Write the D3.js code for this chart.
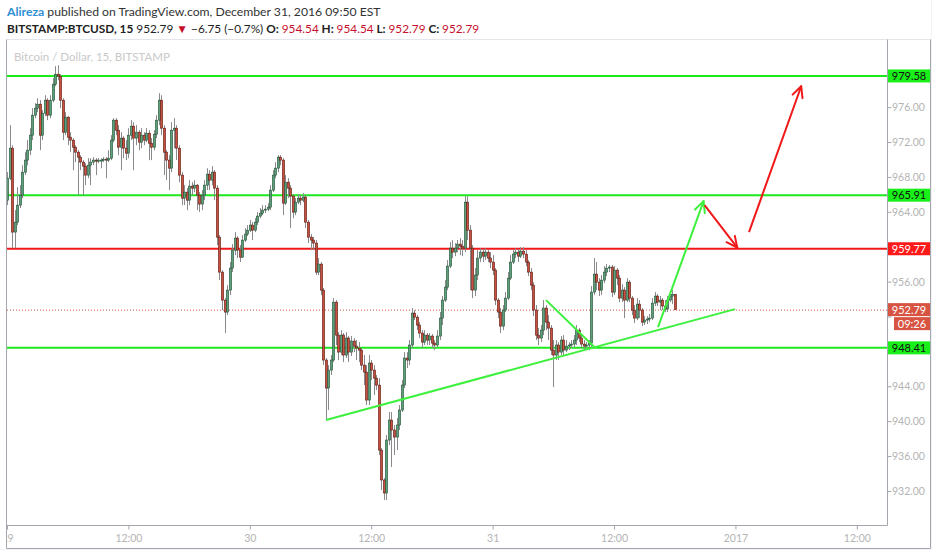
<!DOCTYPE html>
<html><head><meta charset="utf-8">
<script src="https://cdn.jsdelivr.net/npm/d3@7"></script>
<style>body{margin:0;background:#f1f3f6;} svg{display:block;}</style>
</head><body><svg id="c" width="932" height="550"></svg>
<script>
// ---- DATA (BITSTAMP:BTCUSD, 15-minute bars from Dec 29 00:00) ----
const firstOpen = 965.34;
const closes = [
967.86,971.30,961.68,962.82,964.77,965.92,968.55,969.93,971.07,972.79,
975.08,975.88,976.34,972.79,975.31,976.80,975.08,976.80,978.63,979.78,
979.55,976.80,973.13,974.85,972.56,972.22,971.41,970.84,970.27,969.70,
969.24,968.21,969.35,969.70,969.93,969.81,969.93,969.93,970.04,969.93,
970.15,972.22,974.51,973.36,971.41,972.45,971.30,970.73,972.79,973.82,
972.45,973.13,971.99,972.79,972.22,973.02,971.87,971.41,972.90,974.51,
976.80,973.59,970.84,969.93,969.01,973.36,973.59,971.30,968.21,965.57,
966.26,965.34,966.95,966.72,967.06,965.92,964.89,965.92,967.06,968.32,
967.63,968.55,966.72,961.10,957.09,953.88,952.51,955.03,957.55,959.61,
960.99,959.61,958.81,960.76,961.45,961.90,962.48,961.90,962.82,963.51,
963.85,964.20,964.31,964.54,966.49,968.21,969.01,970.27,969.93,965.00,
967.40,966.72,965.80,963.97,965.11,965.57,965.34,965.69,962.82,961.10,
960.76,960.42,957.09,958.01,955.03,947.01,943.80,945.86,947.01,953.65,
949.87,947.92,949.87,947.58,949.53,947.92,949.19,948.61,948.38,948.15,
946.43,945.63,942.42,946.66,945.86,944.94,944.14,936.69,933.26,931.77,
937.84,940.13,938.99,938.18,939.56,941.28,944.14,947.24,947.01,948.73,
952.39,951.93,951.02,950.10,949.07,949.87,949.30,949.76,948.96,948.73,
949.76,951.82,953.88,955.37,957.78,959.84,959.38,959.84,960.30,960.07,
959.84,965.11,961.90,959.84,955.03,956.75,958.70,959.38,958.92,959.38,
958.70,958.24,957.32,953.88,952.51,950.90,952.74,954.11,956.40,958.24,
959.15,959.38,958.92,959.50,959.15,958.24,957.09,955.60,952.74,949.87,
949.53,950.44,952.97,951.36,950.67,948.15,947.58,948.73,947.92,949.30,
948.15,948.61,948.73,948.84,949.30,950.44,949.53,948.84,948.61,948.73,
948.96,954.80,956.86,955.94,955.03,956.17,957.09,957.55,957.67,954.80,
957.32,956.40,954.11,955.03,953.88,955.94,954.11,952.74,951.82,953.42,
952.74,951.36,951.59,951.71,951.82,953.54,954.34,953.65,953.88,953.20,
952.85,953.88,954.34,954.54,952.79];
const highs = [
968.55,973.94,971.64,964.20,966.83,967.06,969.35,970.84,972.22,973.59,
975.88,976.46,977.03,976.80,975.66,977.37,977.03,977.37,979.32,980.70,
980.81,979.78,977.03,975.43,975.00,973.13,972.45,971.64,971.07,970.50,
969.93,969.58,970.15,970.15,970.27,970.15,970.15,970.15,970.27,970.27,
971.07,972.79,974.74,974.74,973.94,973.13,972.68,972.22,973.59,974.51,
974.28,973.94,973.36,973.59,973.13,973.59,973.36,972.45,973.36,975.08,
977.60,977.37,973.94,971.07,970.50,974.28,974.74,973.94,971.64,968.55,
967.06,966.72,967.63,967.40,967.63,967.18,966.26,966.49,967.63,969.01,
968.78,969.24,968.78,967.06,961.33,957.32,954.11,955.60,958.24,960.30,
961.68,961.22,960.19,961.33,962.13,962.48,963.05,962.82,963.28,963.97,
964.43,964.77,964.77,965.00,967.06,968.78,969.70,970.50,970.50,970.15,
968.21,967.86,967.06,966.03,965.57,966.03,965.92,966.14,965.92,963.05,
961.45,961.10,960.76,958.70,958.24,955.26,947.24,946.43,947.58,954.11,
953.88,950.21,950.44,950.10,950.21,949.76,949.76,949.53,949.30,949.07,
948.38,947.58,946.43,947.58,947.01,946.43,945.29,944.94,936.92,933.48,
938.41,941.05,941.05,939.56,940.36,941.85,944.71,947.92,947.92,949.30,
952.97,952.74,952.16,951.36,950.44,950.44,950.10,950.10,949.99,949.30,
950.44,952.51,954.34,956.17,958.47,960.53,960.76,960.42,960.76,960.99,
960.76,965.80,965.80,962.48,960.19,957.55,959.61,959.84,959.73,959.84,
959.61,959.38,959.04,957.55,954.11,952.97,953.31,954.80,957.09,959.04,
959.61,959.84,959.73,959.96,959.96,959.61,958.47,957.55,955.94,953.31,
950.67,951.02,953.88,953.31,952.16,951.02,949.30,949.30,949.07,949.76,
949.87,949.30,949.07,949.30,949.87,951.02,950.67,949.87,949.30,949.07,
949.30,955.49,958.70,958.24,956.40,956.75,957.78,958.01,957.90,957.90,
957.78,957.55,956.75,955.71,955.37,956.40,956.17,954.34,953.31,954.11,
953.88,952.97,952.05,952.05,952.28,954.11,954.80,954.57,954.34,954.11,
953.88,954.34,954.80,955.03,954.54];
const lows = [
964.77,967.63,959.84,959.84,962.48,964.43,965.57,968.21,969.35,970.50,
972.22,974.74,975.43,971.07,972.22,974.97,974.51,974.74,976.57,978.40,
979.09,975.88,972.22,972.79,971.64,970.84,968.78,969.70,965.92,968.78,
965.92,967.06,967.86,967.06,969.35,968.21,969.58,969.01,969.70,967.86,
969.70,969.93,971.99,972.79,970.50,968.78,970.15,969.93,970.15,972.22,
968.78,971.64,971.07,971.30,971.64,971.99,969.93,969.93,971.07,972.45,
973.94,972.79,968.21,967.63,966.49,968.55,971.30,969.93,967.40,964.77,
964.77,964.20,964.77,965.92,966.26,964.20,963.97,964.20,965.34,966.49,
966.49,967.06,965.34,960.19,956.17,952.74,950.10,952.16,954.46,957.09,
959.04,958.70,958.24,958.70,960.53,961.22,961.68,960.76,961.68,962.48,
963.28,963.62,963.85,964.08,964.20,966.26,967.86,968.55,969.35,963.62,
964.77,965.57,962.13,963.28,963.62,964.89,964.77,965.11,962.13,960.42,
959.61,959.61,956.75,956.75,954.46,946.43,940.13,941.28,945.29,946.78,
948.73,947.01,947.58,946.78,947.24,946.78,947.47,947.92,947.01,946.78,
945.86,944.14,941.85,941.85,944.71,943.00,943.57,936.12,932.11,930.97,
930.97,937.27,934.75,936.12,936.69,938.99,941.05,943.80,946.09,946.43,
948.38,951.59,950.44,949.53,948.38,948.73,948.73,948.73,948.38,948.15,
948.50,949.30,951.02,953.65,955.03,957.55,958.70,958.92,959.38,959.04,
958.92,959.38,960.76,955.03,954.11,954.34,956.17,958.24,958.24,958.47,
958.24,957.55,956.75,953.31,951.82,950.10,950.44,952.51,953.88,956.17,
958.01,958.70,958.24,958.70,958.70,957.78,956.63,955.03,952.05,949.30,
948.73,949.07,949.87,950.44,949.30,947.58,943.91,947.01,947.01,947.58,
947.58,947.92,948.15,948.38,948.50,948.73,949.07,948.38,948.15,948.38,
948.15,948.38,954.46,955.03,954.34,954.46,955.83,956.63,957.09,954.23,
954.46,955.60,953.65,953.65,951.82,953.65,953.65,952.16,951.25,951.59,
951.82,950.90,951.02,951.13,951.36,951.59,953.20,953.20,952.74,952.74,
952.51,952.51,953.65,953.42,952.79];

const startTime = Date.UTC(2016, 11, 29, 0, 0);
const barMinutes = 15;
const viewHours = 86.98;
const priceDomain = [928.1, 983.7];
const yTickValues = [932,936,940,944,948,952,956,960,964,968,972,976,980];
const xTickHours = [0,12,24,36,48,60,72,84];
const xTickLabels = ["29","12:00","30","12:00","31","12:00","2017","12:00"];

const levelPrices = [979.58, 965.91, 959.77, 948.41];
const levelColors = ["#1ee81e", "#1ee81e", "#f01818", "#1ee81e"];
const lastPrice = 952.79;
const countdown = "09:26";

// drawings: [startHour, startPrice, endHour, endPrice]
const drawLines = [
  [31.53, 940.13, 71.96, 952.85],
  [53.28, 953.88, 58.10, 948.45]
];
const drawArrows = [
  [64.35, 950.79, 68.85, 965.23],
  [68.95, 964.77, 72.18, 959.90],
  [73.34, 961.68, 78.50, 978.40]
];
const arrowColors = ["#3df03d", "#f01818", "#f01818"];

// ---- CHART ----
const svg = d3.select("#c");
const L = 7, R = 887, T = 40, B = 525;
const hourMs = 3600000;
const x = d3.scaleUtc().domain([new Date(startTime), new Date(startTime + viewHours*hourMs)]).range([L, R]);
const y = d3.scaleLinear().domain(priceDomain).range([B, T]);
const hx = h => x(new Date(startTime + h*hourMs));

svg.append("rect").attr("width", 931).attr("height", 549).attr("fill", "#fff");

// header
const font = "Lato, 'Open Sans', sans-serif";
const h1 = svg.append("text").attr("x", 7).attr("y", 16).attr("font-family", font).attr("font-size", 12.2).attr("fill", "#333");
h1.append("tspan").attr("fill", "#2e8fd6").attr("font-weight", 700).text("Alireza");
h1.append("tspan").text(" published on TradingView.com, December 31, 2016 09:50 EST");

const h2 = svg.append("text").attr("x", 7).attr("y", 33).attr("font-family", font).attr("font-size", 11.8).attr("fill", "#222");
const red = "#c8102e";
const parts = [
  ["BITSTAMP:BTCUSD, 15", "#222", 700], [" 952.79 ", "#222", 400], ["▼", red, 400],
  [" −6.75 (−0.7%) ", "#222", 400],
  ["O: ", "#222", 700], ["954.54", red, 400], [" H: ", "#222", 700], ["954.54", red, 400],
  [" L: ", "#222", 700], ["952.79", red, 400], [" C: ", "#222", 700], ["952.79", red, 400]
];
parts.forEach(p => h2.append("tspan").attr("fill", p[1]).attr("font-weight", p[2]).text(p[0]));

// clip
svg.append("clipPath").attr("id", "plot").append("rect").attr("x", L).attr("y", T).attr("width", R-L).attr("height", B-T);
const g = svg.append("g").attr("clip-path", "url(#plot)");

g.append("text").attr("x", 14).attr("y", 61).attr("font-family", font).attr("font-size", 11.5)
  .attr("fill", "#c9c9c9").text("Bitcoin / Dollar, 15, BITSTAMP");

const bars = closes.map((c, i) => ({
  t: new Date(startTime + i*barMinutes*60000),
  o: i ? closes[i-1] : firstOpen, c, h: highs[i], l: lows[i]
}));

// level lines
levelPrices.forEach((p, i) => {
  g.append("line").attr("x1", L).attr("x2", R).attr("y1", y(p)).attr("y2", y(p))
    .attr("stroke", levelColors[i]).attr("stroke-width", 2);
});
g.append("line").attr("x1", L).attr("x2", R).attr("y1", y(lastPrice)+0.5).attr("y2", y(lastPrice)+0.5)
  .attr("stroke", "#d75442").attr("stroke-width", 1).attr("stroke-dasharray", "1,2");

// candles
g.selectAll("line.w").data(bars).join("line").attr("class", "w")
  .attr("x1", d => Math.round(x(d.t)) + 0.5).attr("x2", d => Math.round(x(d.t)) + 0.5)
  .attr("y1", d => y(Math.max(d.h, d.o, d.c))).attr("y2", d => y(Math.min(d.l, d.o, d.c)))
  .attr("stroke", "#8a8a8c").attr("stroke-width", 1);
g.selectAll("rect.b").data(bars).join("rect").attr("class", "b")
  .attr("x", d => Math.round(x(d.t)) - 0.6).attr("width", 2.2)
  .attr("y", d => y(Math.max(d.o, d.c)))
  .attr("height", d => Math.max(1, Math.abs(y(d.o) - y(d.c))))
  .attr("fill", d => d.c >= d.o ? "#5f9e7a" : "#c9503e")
  .attr("stroke", d => d.c >= d.o ? "#225437" : "#5b1a13").attr("stroke-width", 0.6);

// drawings
drawLines.forEach(a => {
  g.append("line").attr("x1", hx(a[0])).attr("y1", y(a[1])).attr("x2", hx(a[2])).attr("y2", y(a[3]))
    .attr("stroke", "#3df03d").attr("stroke-width", 2);
});
drawArrows.forEach((a, i) => {
  const x1 = hx(a[0]), y1 = y(a[1]), x2 = hx(a[2]), y2 = y(a[3]);
  const col = arrowColors[i];
  g.append("line").attr("x1", x1).attr("y1", y1).attr("x2", x2).attr("y2", y2)
    .attr("stroke", col).attr("stroke-width", 2);
  const ang = Math.atan2(y1 - y2, x1 - x2);
  [-0.45, 0.45].forEach(d => {
    g.append("line").attr("x1", x2).attr("y1", y2)
      .attr("x2", x2 + 12*Math.cos(ang + d)).attr("y2", y2 + 12*Math.sin(ang + d))
      .attr("stroke", col).attr("stroke-width", 2).attr("stroke-linecap", "round");
  });
});

// frame
const frame = "#a3a6ad";
svg.append("line").attr("x1", L-0.5).attr("x2", 930.5).attr("y1", T-0.5).attr("y2", T-0.5).attr("stroke", "#e3e5ea");
svg.append("line").attr("x1", L-0.5).attr("x2", L-0.5).attr("y1", T-0.5).attr("y2", 548.5).attr("stroke", frame);
svg.append("line").attr("x1", L-0.5).attr("x2", 930.5).attr("y1", 548.5).attr("y2", 548.5).attr("stroke", frame);
svg.append("line").attr("x1", 930.5).attr("x2", 930.5).attr("y1", T-0.5).attr("y2", 548.5).attr("stroke", frame);
svg.append("line").attr("x1", L-0.5).attr("x2", R+0.5).attr("y1", B+0.5).attr("y2", B+0.5).attr("stroke", frame);
svg.append("line").attr("x1", R+0.5).attr("x2", R+0.5).attr("y1", T-0.5).attr("y2", B+0.5).attr("stroke", frame);

// y axis (labels hidden where a price tag covers them)
const tagYs = levelPrices.concat([lastPrice]).map(p => y(p));
const yAxis = svg.append("g").attr("transform", `translate(${R+0.5},0)`)
  .call(d3.axisRight(y).tickValues(yTickValues).tickSize(4).tickFormat(d3.format(".2f")));
yAxis.select(".domain").remove();
yAxis.selectAll(".tick line").attr("stroke", frame);
yAxis.selectAll("text").attr("fill", "#b4b4b4").attr("font-family", font).attr("font-size", 10.5).attr("x", 4.5)
  .style("display", d => tagYs.some(ty => Math.abs(ty - y(d)) < 12) ? "none" : null);

// x axis
svg.append("clipPath").attr("id", "xax").append("rect").attr("x", L).attr("y", B).attr("width", R-L+1).attr("height", 24);
const xAxis = svg.append("g").attr("clip-path", "url(#xax)").append("g").attr("transform", `translate(0,${B+0.5})`)
  .call(d3.axisBottom(x).tickValues(xTickHours.map(h => new Date(startTime + h*hourMs)))
    .tickSize(4).tickFormat((d, i) => xTickLabels[i]));
xAxis.select(".domain").remove();
xAxis.selectAll(".tick line").attr("stroke", frame);
xAxis.selectAll("text").attr("fill", "#b4b4b4").attr("font-family", font).attr("font-size", 10.5).attr("dy", "0.9em");

// price tags
function tag(yc, x0, w, bg, fg, label) {
  svg.append("rect").attr("x", x0).attr("y", yc - 6.5).attr("width", w).attr("height", 13).attr("fill", bg);
  svg.append("text").attr("x", x0 + w/2).attr("y", yc + 4).attr("text-anchor", "middle")
    .attr("font-family", font).attr("font-size", 11).attr("fill", fg).text(label);
}
levelPrices.forEach((p, i) => {
  const isRed = levelColors[i] === "#f01818";
  tag(y(p), R+1, 42, isRed ? "#ff1a1a" : "#19f019", isRed ? "#fff" : "#111", p.toFixed(2));
});
tag(y(lastPrice), R+1, 42, "#d75442", "#fff", lastPrice.toFixed(2));
tag(y(lastPrice) + 14, R+7, 36, "#d75442", "#fff", countdown);
</script></body></html>
